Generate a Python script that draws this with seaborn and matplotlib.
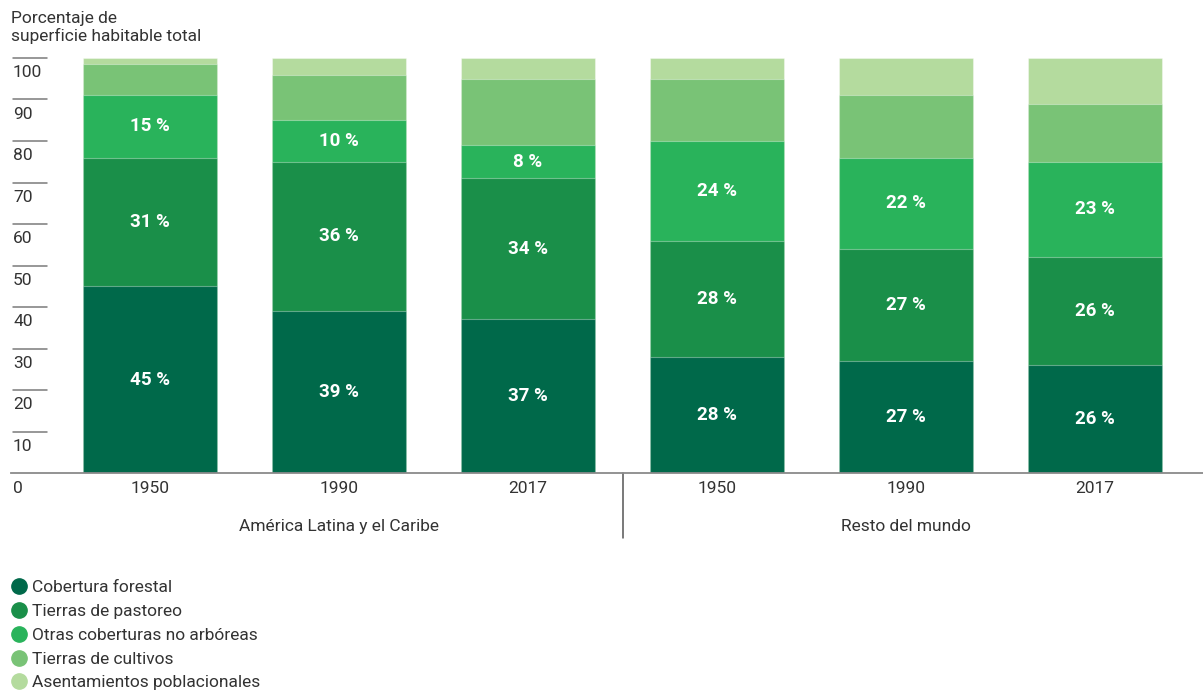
import numpy as np
import pandas as pd
import matplotlib
matplotlib.use("Agg")
import matplotlib.pyplot as plt
import matplotlib.transforms as mtransforms
from matplotlib.lines import Line2D
import seaborn as sns

# ---- data -----------------------------------------------------------------
regions = ["América Latina y el Caribe", "América Latina y el Caribe", "América Latina y el Caribe",
           "Resto del mundo", "Resto del mundo", "Resto del mundo"]
years = ["1950", "1990", "2017", "1950", "1990", "2017"]
categories = ["Cobertura forestal", "Tierras de pastoreo", "Otras coberturas no arbóreas",
              "Tierras de cultivos", "Asentamientos poblacionales"]

forestal = [45, 39, 37, 28, 27, 26]
pastoreo = [31, 36, 34, 28, 27, 26]
otras = [15, 10, 8, 24, 22, 23]
cultivos = [7.5, 11, 16, 15, 15, 14]
asentamientos = [1.5, 4, 5, 5, 9, 11]

# which segments carry a value label
labeled = ["Cobertura forestal", "Tierras de pastoreo", "Otras coberturas no arbóreas"]

colors = ["#00694A", "#1A8F49", "#29B35B", "#79C376", "#B4DB9E"]

yticks = [10, 20, 30, 40, 50, 60, 70, 80, 90, 100]

# ---- tidy table -----------------------------------------------------------
keys = [f"{r}|{y}" for r, y in zip(regions, years)]
series = [forestal, pastoreo, otras, cultivos, asentamientos]
df = pd.DataFrame({"key": keys})
for name, vals in zip(categories, series):
    df[name] = vals
cum = df[categories].cumsum(axis=1)

# ---- figure ---------------------------------------------------------------
sns.set_theme(style="white")
plt.rcParams["font.family"] = ["Roboto", "DejaVu Sans"]

FS = 12.5
TXT = "#333333"

W, H = 1203, 691
fig = plt.figure(figsize=(W / 100, H / 100), dpi=100)
# axes spans from the left margin to the right edge; baseline at y=473 px, 100 at y=58 px
ax_left, ax_right = 11 / W, 1.0
ax_bottom = (H - 473) / H
ax_top = (H - 58) / H
ax = fig.add_axes([ax_left, ax_bottom, ax_right - ax_left, ax_top - ax_bottom])

# stacked bars: draw cumulative totals from the top layer downwards
for i in range(len(categories) - 1, -1, -1):
    name = categories[i]
    sns.barplot(x=df["key"], y=cum[name], order=keys, color=colors[i], ax=ax,
                width=0.714, saturation=1, edgecolor=(1, 1, 1, 0.35), linewidth=0.8,
                errorbar=None)

# value labels
for i, name in enumerate(categories):
    if name not in labeled:
        continue
    for j in range(len(keys)):
        val = df[name].iloc[j]
        bottom = cum[name].iloc[j] - val
        ax.text(j, bottom + val / 2, f"{val:g} %", ha="center", va="center",
                color="white", fontsize=13.5, fontweight="bold")

# x range: left edge at 11 px, bar centres 189 px apart starting at 150 px
px_per_unit = 189
x0 = -(150 - 11) / px_per_unit
x1 = x0 + (W - 11) / px_per_unit
ax.set_xlim(x0, x1)
ax.set_ylim(0, 100)

for s in ["top", "right", "left"]:
    ax.spines[s].set_visible(False)
ax.spines["bottom"].set_color("#8a8a8a")
ax.spines["bottom"].set_linewidth(1.3)

ax.set_xlabel("")
ax.set_ylabel("")
ax.set_yticks([])
ax.set_xticks(range(len(keys)))
ax.set_xticklabels(years, fontsize=FS, color=TXT)
ax.tick_params(axis="x", length=0, pad=6)

# y reference marks: short rules with the value beneath them
trans = mtransforms.blended_transform_factory(fig.transFigure, ax.transData)
for v in yticks:
    ax.add_line(Line2D([13 / W, 47 / W], [v, v], transform=trans, color="#7a7a7a",
                       linewidth=1.1, clip_on=False))
    ax.text(13 / W, v - 3.6, f"{v}", transform=trans, ha="left", va="center",
            fontsize=FS, color=TXT)
ax.text(13 / W, -3.8, "0", transform=trans, ha="left", va="center",
        fontsize=FS, color=TXT)

# group separator and group names
ax.add_line(Line2D([2.5, 2.5], [0, -15.7], color="#555555", linewidth=1.1,
                   clip_on=False))
ax.text(1, -12.8, "América Latina y el Caribe", ha="center", va="center",
        fontsize=FS, color=TXT)
ax.text(4, -12.8, "Resto del mundo", ha="center", va="center",
        fontsize=FS, color=TXT)

# axis title
fig.text(11 / W, 1 - 11 / H, "Porcentaje de\nsuperficie habitable total", ha="left",
         va="top", fontsize=12.5, color=TXT, linespacing=1.15)

# legend
handles = [Line2D([0], [0], marker="o", linestyle="", markersize=11,
                  markerfacecolor=c, markeredgecolor=c) for c in colors]
fig.legend(handles, categories, loc="upper left", bbox_to_anchor=(10 / W, 1 - 580 / H),
           frameon=False, fontsize=FS, handletextpad=0.25, labelspacing=0.5,
           handlelength=1.0, borderaxespad=0, borderpad=0, labelcolor=TXT)

fig.savefig("out.png", dpi=100)
